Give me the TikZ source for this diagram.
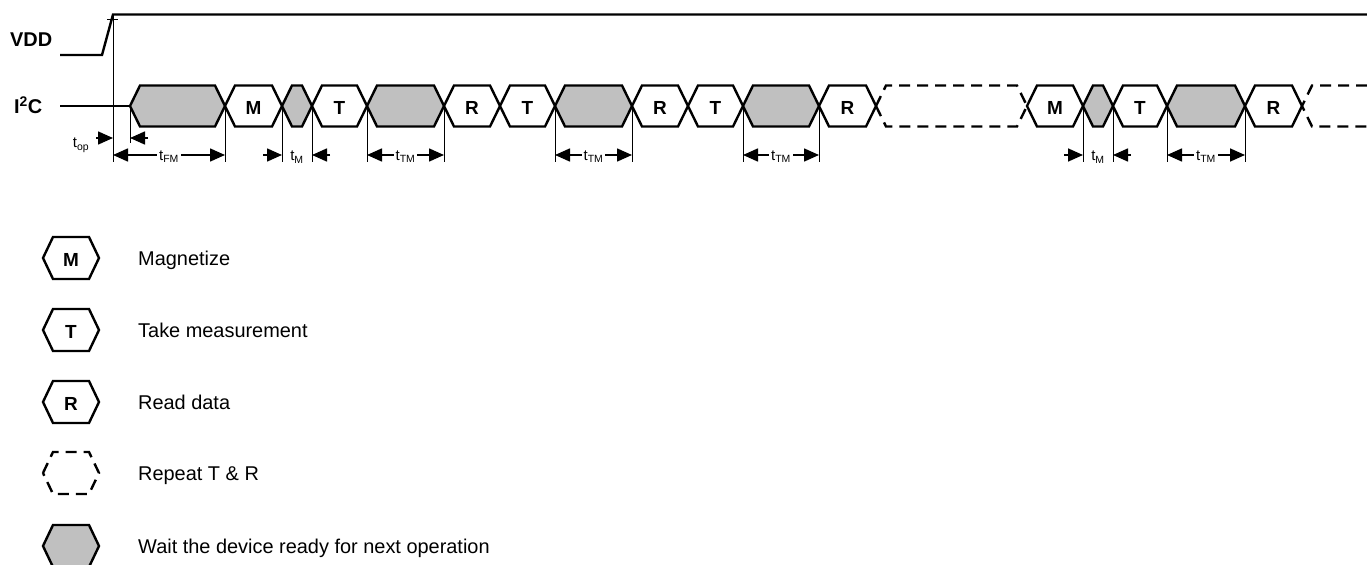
\documentclass[tikz,border=0pt]{standalone}
\usepackage{fontspec}
\setmainfont{Liberation Sans}
\usetikzlibrary{arrows.meta}
\definecolor{waitgray}{RGB}{192,192,192}

\tikzset{
  sig/.style={line width=2.4bp, line join=miter},
  dashsig/.style={sig, dash pattern=on 11bp off 7bp},
  tickline/.style={line width=1bp},
  dim/.style={line width=1.6bp},
  dimtip/.style={-{Triangle[length=15bp,width=13bp]}},
  dimboth/.style={{Triangle[length=15bp,width=13bp]}-{Triangle[length=15bp,width=13bp]}},
  hexlbl/.style={font=\fontsize{19}{22}\selectfont\bfseries, inner sep=0pt},
  tlbl/.style={font=\fontsize{15}{18}\selectfont, inner xsep=2bp, inner ysep=1bp},
  legtxt/.style={font=\fontsize{20}{24}\selectfont, anchor=base west, inner sep=0pt},
}

\begin{document}
\begin{tikzpicture}[x=1bp, y=-1bp]
  \useasboundingbox (0,0) rectangle (1367,565);

  %% Signal names
  \node[anchor=base west, inner sep=0pt, font=\fontsize{20}{24}\selectfont\bfseries] (vdd) at (10,47) {VDD};
  \node[anchor=base west, inner sep=0pt, font=\fontsize{20}{24}\selectfont\bfseries] (i2c) at (14,114) {I\textsuperscript{2}C};

  %% VDD ramp
  \draw[sig] (60,55) -- (102,55) -- (113,14.5) -- (1367,14.5);
  \draw[tickline] (113,15) -- (113,162);
  \draw[tickline] (107,20) -- (118,20);

  %% Timing ticks
  \draw[tickline] (130,106) -- (130,143);
  \foreach \x in {225,282,312,367,444,555,632,743,819,1083,1113,1167,1245}{
    \draw[tickline] (\x,106) -- (\x,162);
  }

  %% I2C idle
  \draw[sig] (60,106) -- (130,106);

  %% Wait slots
  \foreach \a/\b in {130/225, 282/312, 367/444, 555/632, 743/819, 1083/1113, 1167/1245}{
    \draw[sig, fill=waitgray] (\a,106) -- (\a+10,85.5) -- (\b-10,85.5) -- (\b,106) -- (\b-10,126.5) -- (\a+10,126.5) -- cycle;
  }

  %% Commands
  \foreach \a/\b/\l in {225/282/M, 312/367/T, 444/500/R, 500/555/T,
                        632/688/R, 688/743/T, 819/876/R,
                        1027/1083/M, 1113/1167/T, 1245/1302/R}{
    \draw[sig, fill=white] (\a,106) -- (\a+10,85.5) -- (\b-10,85.5) -- (\b,106) -- (\b-10,126.5) -- (\a+10,126.5) -- cycle;
    \node[hexlbl] (seg\a) at ({(\a+\b)/2},108) {\l};
  }

  %% Repeats
  \draw[dashsig] (876,106) -- (886,85.5) -- (1017,85.5) -- (1027,106) -- (1017,126.5) -- (886,126.5) -- cycle;
  \draw[dashsig] (1367,85.5) -- (1312,85.5) -- (1302,106) -- (1312,126.5) -- (1367,126.5);

  %% t_op
  \draw[dim, dimtip] (96,138) -- (113,138);
  \draw[dim, dimtip] (148,138) -- (130,138);
  \node[tlbl, anchor=base] (top) at (81,148) {t\textsubscript{op}};

  %% t_FM and t_TM
  \draw[dim, dimboth] (113,155) -- (225,155) node[tlbl, midway, fill=white, yshift=-2bp] (tFM) {t\textsubscript{FM}};
  \foreach \a/\b in {367/444, 555/632, 743/819, 1167/1245}{
    \draw[dim, dimboth] (\a,155) -- (\b,155) node[tlbl, midway, fill=white, yshift=-2bp] (tTM\a) {t\textsubscript{TM}};
  }

  %% t_M
  \foreach \a/\b in {282/312, 1083/1113}{
    \draw[dim, dimtip] (\a-19,155) -- (\a,155);
    \draw[dim, dimtip] (\b+18,155) -- (\b,155);
    \node[tlbl, anchor=base] (tM\a) at ({(\a+\b)/2},161) {t\textsubscript{M}};
  }

  %% Legend
  \foreach \c/\l/\txt in {258/M/Magnetize, 330/T/Take measurement, 402/R/Read data}{
    \draw[sig] (43,\c) -- (53,\c-21) -- (89,\c-21) -- (99,\c) -- (89,\c+21) -- (53,\c+21) -- cycle;
    \node[hexlbl] (leg\l) at (71,\c+2) {\l};
    \node[legtxt] (txt\l) at (138,\c+7) {\txt};
  }
  \draw[dashsig] (43,473) -- (53,452) -- (89,452) -- (99,473) -- (89,494) -- (53,494) -- cycle;
  \node[legtxt] (txtrep) at (138,480) {Repeat T \& R};
  \draw[sig, fill=waitgray] (43,546) -- (53,525) -- (89,525) -- (99,546) -- (89,567) -- (53,567) -- cycle;
  \node[legtxt] (txtwait) at (138,553) {Wait the device ready for next operation};

\end{tikzpicture}
\end{document}
